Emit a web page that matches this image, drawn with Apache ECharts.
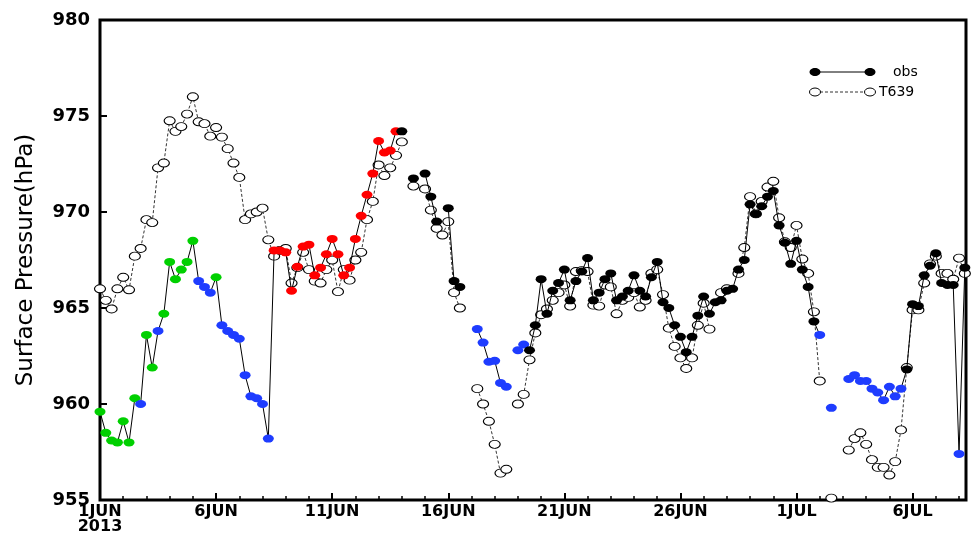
<!DOCTYPE html>
<html>
<head>
<meta charset="utf-8">
<script src="https://cdn.jsdelivr.net/npm/echarts/dist/echarts.min.js"></script>
<style>
  html, body { margin: 0; padding: 0; background: #fff; }
  #chart { width: 971px; height: 539px; }
</style>
</head>
<body>
<div id="chart"></div>
<script>
// Surface pressure, 6-hourly steps starting 1 JUN 2013 00Z (step index = hours / 6)
const tickLabels = ['1JUN\n2013', '6JUN', '11JUN', '16JUN', '21JUN', '26JUN', '1JUL', '6JUL'];

// observed surface pressure (hPa); null = no observation
const obs = [
  959.6, 958.5, 958.1, 958.0, 959.1, 958.0, 960.3, 960.0, 963.6, 961.9,
  963.8, 964.7, 967.4, 966.5, 967.0, 967.4, 968.5, 966.4, 966.1, 965.8,
  966.6, 964.1, 963.8, 963.6, 963.4, 961.5, 960.4, 960.3, 960.0, 958.2,
  968.0, 968.0, 967.9, 965.9, 967.15, 968.2, 968.3, 966.7, 967.1, 967.8,
  968.6, 967.8, 966.7, 967.1, 968.6, 969.8, 970.9, 972.0, 973.7, 973.1,
  973.2, 974.2, 974.2, null, 971.75, null, 972.0, 970.8, 969.5, null,
  970.2, 966.4, 966.1, null, null, 963.9, 963.2, 962.2, 962.25, 961.1,
  960.9, null, 962.8, 963.1, 962.8, 964.1, 966.5, 964.7, 965.9, 966.3,
  967.0, 965.4, 966.4, 966.9, 967.6, 965.4, 965.8, 966.5, 966.8, 965.4,
  965.6, 965.9, 966.7, 965.9, 965.6, 966.6, 967.4, 965.3, 965.0, 964.1,
  963.5, 962.7, 963.5, 964.6, 965.6, 964.7, 965.3, 965.4, 965.9, 966.0,
  967.0, 967.5, 970.4, 969.9, 970.3, 970.8, 971.1, 969.3, 968.4, 967.3,
  968.5, 967.0, 966.1, 964.3, 963.6, null, 959.8, null, null, 961.3,
  961.5, 961.2, 961.2, 960.8, 960.6, 960.2, 960.9, 960.4, 960.8, 961.8,
  965.2, 965.1, 966.7, 967.2, 967.85, 966.3, 966.2, 966.2, 957.4, 967.1
];

// T639 forecast surface pressure (hPa)
const t639 = [
  966.0, 965.4, 964.95, 966.0, 966.6, 965.95, 967.7, 968.1, 969.6, 969.45,
  972.3, 972.55, 974.75, 974.2, 974.45, 975.1, 976.0, 974.7, 974.6, 973.95,
  974.4, 973.9, 973.3, 972.55, 971.8, 969.6, 969.9, 970.0, 970.2, 968.55,
  967.7, 968.0, 968.1, 966.3, 967.1, 967.9, 967.0, 966.4, 966.3, 967.0,
  967.5, 965.85, 967.0, 966.45, 967.5, 967.9, 969.6, 970.55, 972.45, 971.9,
  972.3, 972.95, 973.65, null, 971.35, null, 971.2, 970.1, 969.15, 968.8,
  969.5, 965.8, 965.0, null, null, 960.8, 960.0, 959.1, 957.9, 956.4,
  956.6, null, 960.0, 960.5, 962.3, 963.7, 964.65, 964.95, 965.4, 965.8,
  966.2, 965.1, 966.9, 966.95, 966.9, 965.15, 965.1, 966.2, 966.1, 964.7,
  965.4, 965.55, 965.8, 965.05, 965.4, 966.8, 967.0, 965.7, 963.95, 963.0,
  962.4, 961.85, 962.4, 964.1, 965.25, 963.9, null, 965.8, 966.0, null,
  966.8, 968.15, 970.8, 969.9, 970.55, 971.3, 971.6, 969.7, 968.45, 968.15,
  969.3, 967.55, 966.8, 964.8, 961.2, null, 955.1, null, null, 957.6,
  958.2, 958.5, 957.9, 957.1, 956.7, 956.7, 956.3, 957.0, 958.65, 961.9,
  964.9, 964.9, 966.3, 967.3, 967.7, 966.8, 966.8, 966.5, 967.6, 966.8
];

// weather regime of each observation, as runs of [code, count]
const regimeRuns = [
  ['g', 7], ['b', 1], ['g', 2], ['b', 1], ['g', 6], ['b', 3], ['g', 1], ['b', 9],
  ['r', 22], ['k', 13], ['b', 9], ['k', 50], ['b', 15], ['k', 9], ['b', 1], ['k', 1]
];
const regimeColors = { g: '#00d000', b: '#1e3cff', r: '#ff0000', k: '#000000' };

const regime = [];
regimeRuns.forEach(([code, n]) => { for (let i = 0; i < n; i++) regime.push(code); });

const obsData = obs.map((v, i) => ({
  value: [i, v],
  itemStyle: { color: regimeColors[regime[i]] }
}));
const t639Data = t639.map((v, i) => [i, v]);

const chart = echarts.init(document.getElementById('chart'), null, { renderer: 'canvas' });

const fontFamily = 'DejaVu Sans, Liberation Sans, sans-serif';

chart.setOption({
  animation: false,
  backgroundColor: '#fff',
  grid: {
    left: 100, right: 5, top: 20, bottom: 39,
    show: true, borderColor: '#000', borderWidth: 3, backgroundColor: 'transparent'
  },
  xAxis: {
    type: 'value',
    min: 0, max: 149.2, interval: 20,
    axisLine: { show: false },
    axisTick: { show: true, inside: true, length: 7, lineStyle: { color: '#000', width: 2 } },
    minorTick: { show: true, splitNumber: 5, length: 4, lineStyle: { color: '#000', width: 1.5 } },
    splitLine: { show: false },
    axisLabel: {
      showMaxLabel: false,
      formatter: v => tickLabels[Math.round(v / 20)] || '',
      color: '#000', fontFamily, fontWeight: 'bold', fontSize: 16, lineHeight: 15, margin: 4
    }
  },
  yAxis: {
    type: 'value',
    min: 955, max: 980, interval: 5,
    axisLine: { show: false },
    axisTick: { show: true, inside: true, length: 7, lineStyle: { color: '#000', width: 2 } },
    splitLine: { show: false },
    axisLabel: { color: '#000', fontFamily, fontWeight: 'bold', fontSize: 18, margin: 10 },
    name: 'Surface Pressure(hPa)',
    nameLocation: 'middle',
    nameGap: 62,
    nameTextStyle: { color: '#000', fontFamily, fontSize: 23 }
  },
  series: [
    {
      name: 'T639',
      type: 'line',
      data: t639Data,
      z: 2,
      connectNulls: false,
      symbol: 'circle',
      symbolSize: [11, 8],
      showAllSymbol: true,
      lineStyle: { color: '#333', width: 1, type: [3, 2] },
      itemStyle: { color: '#fff', borderColor: '#000', borderWidth: 1 }
    },
    {
      name: 'obs',
      type: 'line',
      data: obsData,
      z: 3,
      connectNulls: false,
      symbol: 'circle',
      symbolSize: [11, 8],
      showAllSymbol: true,
      lineStyle: { color: '#000', width: 1 },
      itemStyle: { borderWidth: 0 }
    }
  ],
  graphic: [
    // legend: obs
    { type: 'line', shape: { x1: 815, y1: 72, x2: 870, y2: 72 }, style: { stroke: '#000', lineWidth: 1 } },
    { type: 'ellipse', shape: { cx: 815, cy: 72, rx: 5.5, ry: 4 }, style: { fill: '#000' } },
    { type: 'ellipse', shape: { cx: 870, cy: 72, rx: 5.5, ry: 4 }, style: { fill: '#000' } },
    { type: 'text', left: 893, top: 65, style: { text: 'obs', font: '14px ' + fontFamily, fill: '#000' } },
    // legend: T639
    { type: 'line', shape: { x1: 815, y1: 92, x2: 870, y2: 92 }, style: { stroke: '#333', lineWidth: 1, lineDash: [3, 2] } },
    { type: 'ellipse', shape: { cx: 815, cy: 92, rx: 5.5, ry: 4 }, style: { fill: '#fff', stroke: '#000', lineWidth: 1 } },
    { type: 'ellipse', shape: { cx: 870, cy: 92, rx: 5.5, ry: 4 }, style: { fill: '#fff', stroke: '#000', lineWidth: 1 } },
    { type: 'text', left: 879, top: 85, style: { text: 'T639', font: '14px ' + fontFamily, fill: '#000' } }
  ]
});
</script>
</body>
</html>
